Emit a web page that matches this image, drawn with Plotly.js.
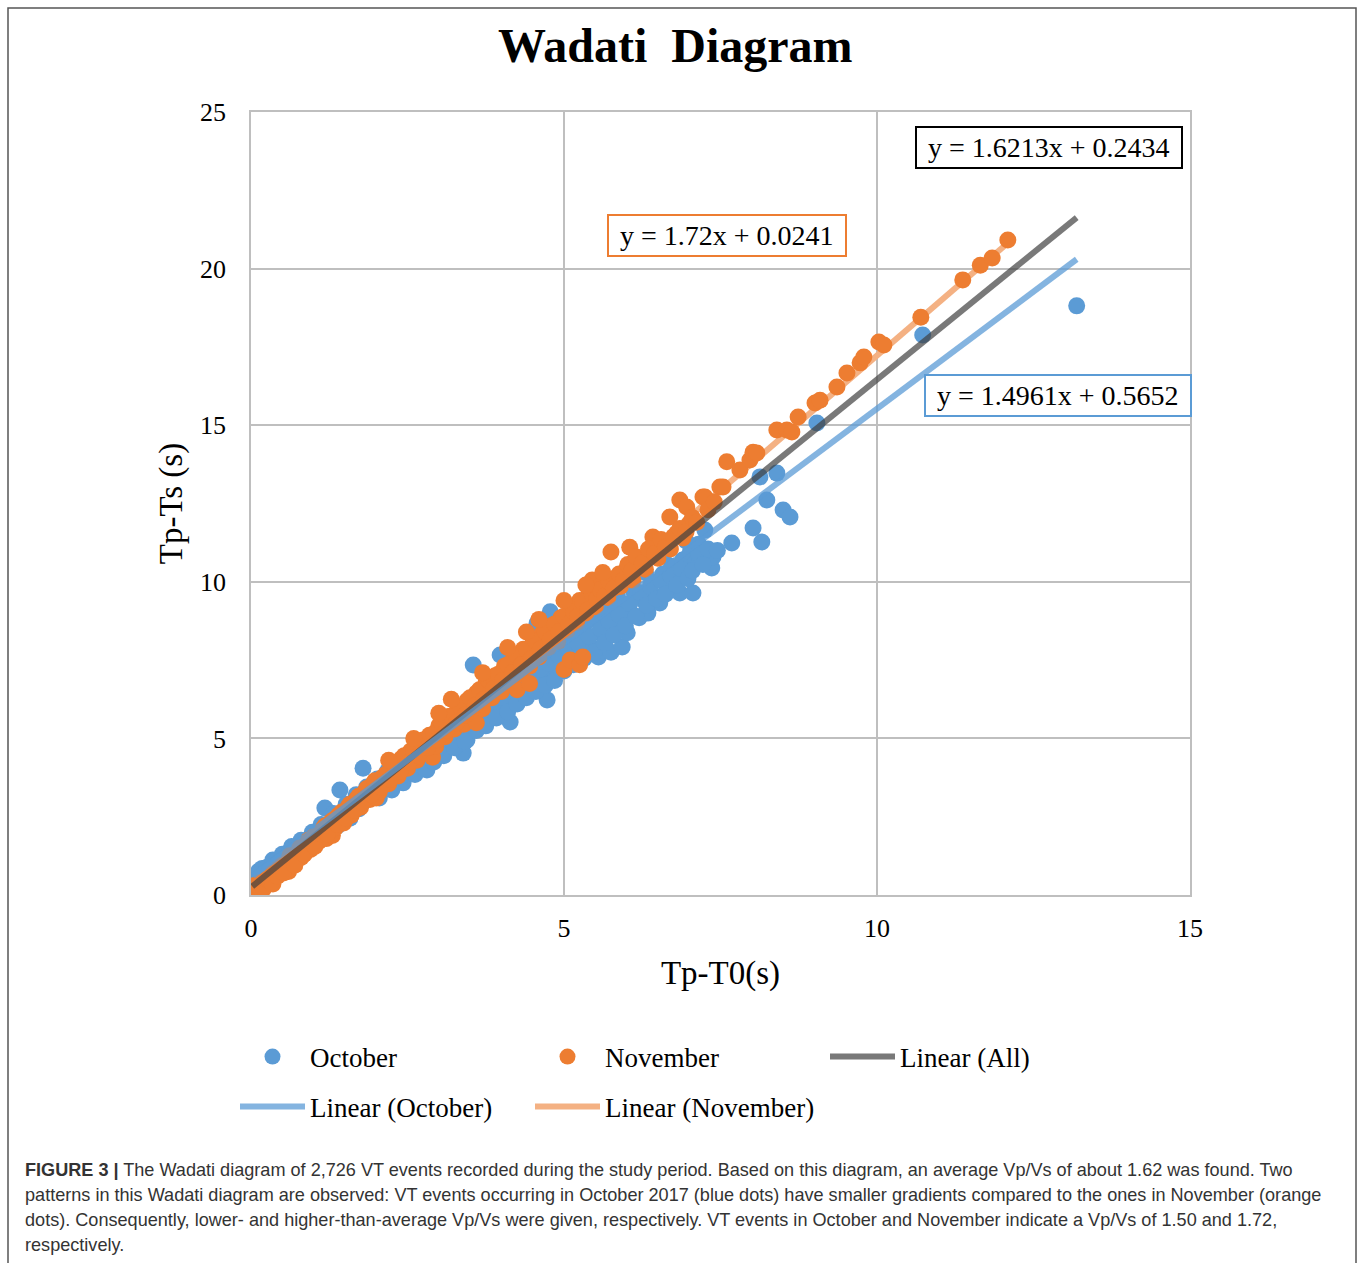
<!DOCTYPE html>
<html>
<head>
<meta charset="utf-8">
<script src="https://cdn.plot.ly/plotly-3.0.1.min.js"></script>
<style>
  html, body { margin: 0; padding: 0; background: #fff; }
  #chart { width: 1360px; height: 1263px; }
</style>
</head>
<body>
<div id="chart"></div>
<script>
// ---------- Data ----------
const octoberX = [
  0.03,0.08,0.12,0.18,0.26,0.35,0.40,0.50,0.58,0.65,0.72,0.80,0.90,0.98,1.05,1.12,1.18,1.25,1.32,1.42,
  1.45,1.52,1.60,1.68,1.79,1.78,1.85,1.95,2.02,2.10,2.18,2.28,2.35,2.43,2.50,2.58,2.65,2.73,2.81,2.88,
  2.95,3.05,3.12,3.20,3.28,3.39,3.45,3.50,3.55,3.58,3.65,3.72,3.80,3.90,3.98,4.00,4.08,4.14,4.20,4.28,
  4.35,4.42,4.50,4.57,4.60,4.68,4.73,4.78,4.80,4.88,4.95,5.05,5.12,5.20,5.28,5.35,5.42,5.50,5.55,5.62,
  5.70,5.75,5.82,5.85,5.90,5.93,6.01,6.05,6.10,6.12,6.20,6.28,6.30,6.34,6.40,6.45,6.53,6.58,6.60,6.65,
  6.72,6.78,6.85,6.90,6.95,6.95,7.02,7.06,7.10,7.15,7.17,7.25,7.36,7.38,7.68,8.02,8.16,8.13,8.24,8.40,
  8.50,8.61,9.04,10.73,13.19,
  0.15,0.22,0.30,0.45,0.55,0.62,0.70,0.85,0.95,1.00,1.10,1.20,1.30,1.38,1.50,1.58,1.65,1.72,1.88,1.98,
  2.05,2.15,2.25,2.32,2.40,2.55,2.62,2.70,2.78,2.85,2.92,3.00,3.08,3.15,3.25,3.32,3.42,3.48,3.60,3.68,
  3.75,3.85,3.92,4.02,4.10,4.18,4.25,4.32,4.40,4.48,4.55,4.62,4.70,4.76,4.85,4.92,5.00,5.08,5.15,5.22,
  5.32,5.40,5.48,5.58,5.65,5.72,5.80,5.88,5.98,6.05,6.15,6.22,6.32,6.38,6.48,6.55,6.62,6.70,6.80,6.88,
  6.98,7.05,7.15,7.22,7.30,7.45
];
const octoberY = [
  0.45,0.60,0.75,0.85,0.89,1.12,0.95,1.30,1.20,1.55,1.35,1.75,1.60,2.00,1.85,2.25,2.78,2.15,2.60,3.35,
  2.45,2.90,2.70,3.20,4.05,2.95,3.45,3.15,3.70,3.35,3.95,3.55,4.20,3.58,4.45,3.95,4.70,4.25,3.99,4.95,
  4.50,5.15,4.75,5.45,4.95,4.53,4.95,5.25,7.34,6.10,5.50,6.35,5.80,6.60,7.66,6.05,6.85,5.52,6.30,7.10,
  6.55,7.40,6.70,8.68,7.65,6.95,6.23,9.04,7.25,7.95,7.45,8.20,7.60,8.45,7.80,8.70,7.95,8.90,7.60,8.30,
  9.10,7.75,8.55,9.70,9.35,7.92,8.37,9.00,10.10,9.70,8.85,9.40,10.30,9.00,10.00,9.55,9.32,10.25,10.90,9.80,
  10.50,10.05,9.64,10.70,10.30,11.30,10.95,9.64,10.60,11.20,10.70,11.65,10.44,10.79,11.24,11.72,11.27,13.35,12.61,13.47,
  12.29,12.07,15.07,17.88,18.81,
  0.55,0.70,0.80,1.05,1.05,1.40,1.25,1.45,1.85,1.65,2.05,1.95,2.35,2.20,2.65,2.45,2.90,2.75,3.10,3.35,
  3.10,3.60,3.35,3.80,3.80,4.15,3.85,4.40,4.05,4.60,4.25,4.80,4.45,5.05,4.70,5.25,4.90,5.55,5.25,5.80,
  5.40,6.00,5.65,6.30,5.85,6.55,6.10,6.80,6.30,6.95,6.50,7.20,6.70,7.40,6.85,7.65,7.15,7.85,7.35,8.05,
  7.55,8.25,7.75,8.50,8.05,8.75,8.30,8.95,8.60,9.30,8.90,9.65,9.25,9.85,9.45,10.05,9.60,10.20,9.90,10.40,
  10.10,10.35,10.90,10.55,11.05,11.00
];
const novemberX = [
  0.02,0.05,0.08,0.10,0.12,0.15,0.20,0.25,0.30,0.35,0.35,0.42,0.50,0.55,0.60,0.60,0.68,0.75,0.80,0.88,
  0.95,1.00,1.08,1.15,1.20,1.28,1.30,1.35,1.40,1.48,1.55,1.60,1.68,1.75,1.82,1.90,1.95,2.00,2.05,2.10,
  2.20,2.25,2.35,2.40,2.50,2.55,2.65,2.70,2.80,2.85,2.90,2.95,3.00,3.10,3.15,3.25,3.30,3.40,3.45,3.55,
  3.60,3.60,3.70,3.75,3.85,3.90,4.00,4.05,4.15,4.20,4.25,4.30,4.35,4.45,4.45,4.50,4.60,4.65,4.75,4.80,
  4.90,4.95,5.00,5.05,5.10,5.10,5.20,5.25,5.25,5.30,5.35,5.40,5.45,5.50,5.60,5.70,5.75,5.80,5.90,6.00,
  6.05,6.10,6.20,6.30,6.40,6.42,6.50,6.60,6.69,6.70,6.80,6.85,6.90,6.96,7.00,7.22,7.25,7.49,7.54,7.60,
  7.81,7.97,8.02,8.08,8.40,8.56,8.64,8.74,9.01,9.09,9.36,9.52,9.73,9.79,10.03,10.11,10.70,11.37,11.65,11.84,
  12.09,
  0.45,0.52,0.62,0.70,0.78,0.85,0.92,1.02,1.10,1.18,1.22,1.32,1.38,1.45,1.52,1.58,1.65,1.72,1.78,1.85,
  1.92,1.98,2.08,2.15,2.22,2.30,2.38,2.45,2.52,2.60,2.68,2.75,2.82,2.92,2.98,3.05,3.12,3.20,3.28,3.35,
  3.42,3.50,3.58,3.65,3.72,3.80,3.88,3.95,4.02,4.10,4.18,4.25,4.32,4.40,4.48,4.55,4.62,4.70,4.78,4.85,
  4.92,5.00,5.08,5.15,5.22,5.30,5.38,5.45,5.52,5.58,5.65,5.72,5.80,5.88,5.95,6.02,6.08,6.15,6.25,6.35,
  6.45,6.55,6.62,6.75,6.85,6.95,7.05,7.12,7.30,7.40,
  3.20,3.70,4.10,4.60,4.40,5.00,5.35,5.62,3.00,2.60,2.20
];
const novemberY = [
  0.15,0.30,0.05,0.00,0.25,0.40,0.20,0.50,0.45,0.70,0.35,0.60,0.95,0.80,1.10,0.75,1.05,1.35,1.20,1.60,
  1.45,1.85,1.70,2.10,1.80,2.35,1.90,2.15,2.55,2.30,2.80,2.55,3.05,2.80,3.30,3.05,3.55,3.10,3.30,3.75,
  3.55,4.05,3.80,4.35,4.05,4.60,4.30,4.85,4.55,5.10,4.40,4.75,5.40,5.05,5.70,5.30,5.95,5.45,6.20,5.75,
  6.45,5.50,5.95,6.75,6.30,7.00,6.50,7.30,6.85,7.60,6.55,7.05,7.85,7.30,6.75,8.05,7.60,8.35,7.90,8.60,
  8.10,8.85,7.20,8.45,9.15,7.50,8.70,9.40,7.35,7.60,9.00,9.65,10.06,9.20,9.90,9.50,10.95,10.10,9.85,10.40,
  11.10,10.05,10.65,10.40,10.95,11.43,10.75,11.20,12.07,11.05,11.55,12.61,11.40,12.39,11.85,12.71,12.71,13.03,13.03,13.83,
  13.57,13.89,14.14,14.11,14.85,14.85,14.78,15.26,15.71,15.80,16.22,16.67,16.99,17.18,17.66,17.56,18.45,19.64,20.11,20.34,
  20.91,
  0.85,0.70,1.25,0.95,1.50,1.30,1.75,1.55,1.95,2.20,1.95,2.40,2.25,2.65,2.45,2.90,2.70,3.15,2.95,3.40,
  3.20,3.65,3.45,3.85,3.70,4.10,3.95,4.45,4.25,4.60,4.45,4.95,4.70,5.15,4.95,5.50,5.25,5.70,5.50,6.00,
  5.75,6.30,6.05,6.55,6.25,6.85,6.60,7.05,6.85,7.35,7.10,7.65,7.35,7.85,7.55,8.10,7.85,8.40,8.15,8.65,
  8.40,8.90,8.65,9.05,8.90,9.35,9.10,9.60,9.45,9.75,9.55,10.00,9.80,10.25,10.05,10.55,10.35,10.80,10.60,11.05,
  10.90,11.35,11.10,11.45,11.70,11.60,12.05,11.90,12.30,12.55,
  6.25,7.10,7.90,8.80,8.40,9.40,9.90,10.30,5.80,5.00,4.30
];

// Linear trendlines (equations shown on the chart)
const trendNames = ['Linear (All)', 'Linear (October)', 'Linear (November)'];
const trendSlopes = [1.6213, 1.4961, 1.72];
const trendIntercepts = [0.2434, 0.5652, 0.0241];
const equationTexts = ['y = 1.6213x + 0.2434', 'y = 1.4961x + 0.5652', 'y = 1.72x + 0.0241'];

const xTickVals = [0, 5, 10, 15];
const yTickVals = [0, 5, 10, 15, 20, 25];

const captionLines = [
  '<b>FIGURE 3 |</b> The Wadati diagram of 2,726 VT events recorded during the study period. Based on this diagram, an average Vp/Vs of about 1.62 was found. Two',
  'patterns in this Wadati diagram are observed: VT events occurring in October 2017 (blue dots) have smaller gradients compared to the ones in November (orange',
  'dots). Consequently, lower- and higher-than-average Vp/Vs were given, respectively. VT events in October and November indicate a Vp/Vs of 1.50 and 1.72,',
  'respectively.'
];

// ---------- Styling ----------
const BLUE = '#5B9BD5';
const ORANGE = '#ED7D31';
const SERIF = '"Liberation Serif", "Times New Roman", serif';
const SANS = '"Liberation Sans", Arial, Helvetica, sans-serif';

const allX = octoberX.concat(novemberX);
const xmin = a => Math.min.apply(null, a);
const xmax = a => Math.max.apply(null, a);
const trendRanges = [
  [xmin(allX), xmax(allX)],
  [xmin(octoberX), xmax(octoberX)],
  [xmin(novemberX), xmax(novemberX)]
];
function trendTrace(i, color, width, legendId) {
  const xs = trendRanges[i];
  return {
    type: 'scatter', mode: 'lines', name: trendNames[i], legend: legendId,
    x: xs, y: xs.map(v => trendSlopes[i] * v + trendIntercepts[i]),
    line: {color: color, width: width},
    hoverinfo: 'skip'
  };
}

const traces = [
  trendTrace(2, '#F4B183', 6, 'legend5'),
  {type: 'scatter', mode: 'markers', name: 'October', legend: 'legend',
   x: octoberX, y: octoberY, marker: {color: BLUE, size: 17}},
  {type: 'scatter', mode: 'markers', name: 'November', legend: 'legend2',
   x: novemberX, y: novemberY, marker: {color: ORANGE, size: 17}},
  trendTrace(0, 'rgba(64,64,64,0.7)', 6, 'legend3'),
  trendTrace(1, 'rgba(91,155,213,0.75)', 6, 'legend4')
];

// pixel helpers for paper coordinates (plot area: x 251..1190, y 112..895)
const PL = 251, PR = 1190, PT = 112, PB = 895;
const px = p => (p - PL) / (PR - PL);
const py = p => (PB - p) / (PB - PT);

function legendAt(xpix, ypix) {
  return {
    x: px(xpix), y: py(ypix), xanchor: 'left', yanchor: 'middle',
    orientation: 'v', bgcolor: 'rgba(0,0,0,0)', borderwidth: 0,
    font: {family: SERIF, size: 27, color: '#000'},
    itemwidth: 65, itemsizing: 'trace', tracegroupgap: 0
  };
}

const eqFont = {family: SERIF, size: 28, color: '#000'};
const pad = t => '&nbsp;' + t + '&nbsp;';

const layout = {
  width: 1360, height: 1263,
  margin: {l: PL, r: 1360 - PR, t: PT, b: 1263 - PB, pad: 0},
  paper_bgcolor: '#fff', plot_bgcolor: '#fff',
  title: {
    text: '<b>Wadati&nbsp; Diagram</b>',
    font: {family: SERIF, size: 48, color: '#000'},
    x: 0.4965, xanchor: 'center', y: 1 - 45 / 1263, yanchor: 'middle', yref: 'container'
  },
  xaxis: {
    range: [0, 15], tickvals: xTickVals, ticks: '', ticklabelstandoff: 9,
    showgrid: true, gridcolor: '#BFBFBF', gridwidth: 1.5,
    showline: true, linecolor: '#BFBFBF', linewidth: 1.5, mirror: true, zeroline: false,
    tickfont: {family: SERIF, size: 26, color: '#000'},
    title: {text: 'Tp-T0(s)', font: {family: SERIF, size: 33, color: '#000'}, standoff: 19}
  },
  yaxis: {
    range: [0, 25], tickvals: yTickVals, ticks: '', ticklabelstandoff: 18,
    showgrid: true, gridcolor: '#BFBFBF', gridwidth: 1.5,
    showline: true, linecolor: '#BFBFBF', linewidth: 1.5, mirror: true, zeroline: false,
    tickfont: {family: SERIF, size: 26, color: '#000'},
    title: {text: 'Tp-Ts (s)', font: {family: SERIF, size: 33, color: '#000'}, standoff: 7}
  },
  showlegend: true,
  legend: legendAt(235, 1057),
  legend2: legendAt(530, 1057),
  legend3: legendAt(825, 1057),
  legend4: legendAt(235, 1107),
  legend5: legendAt(530, 1107),
  annotations: [
    {xref: 'x', yref: 'y', x: 12.75, y: 23.88, text: pad(equationTexts[0]), showarrow: false,
     font: eqFont, bgcolor: '#fff', bordercolor: '#000', borderwidth: 2, borderpad: 4},
    {xref: 'x', yref: 'y', x: 12.89, y: 15.96, text: pad(equationTexts[1]), showarrow: false,
     font: eqFont, bgcolor: '#fff', bordercolor: BLUE, borderwidth: 2, borderpad: 4},
    {xref: 'x', yref: 'y', x: 7.60, y: 21.07, text: pad(equationTexts[2]), showarrow: false,
     font: eqFont, bgcolor: '#fff', bordercolor: ORANGE, borderwidth: 2, borderpad: 4}
  ].concat(captionLines.map((t, i) => ({
    xref: 'paper', yref: 'paper', x: px(23), y: py(1170 + 25 * i), xanchor: 'left', yanchor: 'middle',
    align: 'left', showarrow: false, text: t,
    font: {family: SANS, size: 18.1, color: '#333'}
  }))),
  shapes: [
    {type: 'rect', xref: 'paper', yref: 'paper', x0: px(8), x1: px(1356), y0: py(1275), y1: py(8),
     line: {color: '#555', width: 1.5}, fillcolor: 'rgba(0,0,0,0)', layer: 'below'}
  ]
};

Plotly.newPlot('chart', traces, layout, {displayModeBar: false, responsive: false});
</script>
</body>
</html>
